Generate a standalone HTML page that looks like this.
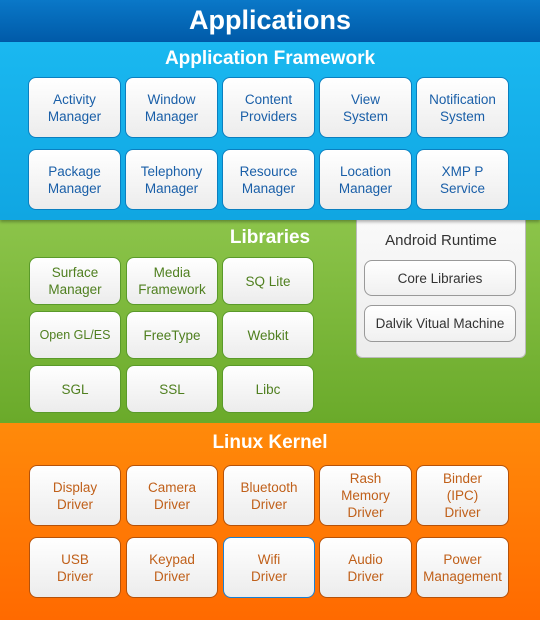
<!DOCTYPE html>
<html><head><meta charset="utf-8"><style>
*{margin:0;padding:0;box-sizing:border-box}
body{width:540px;height:620px;position:relative;overflow:hidden;font-family:"Liberation Sans",Arial,sans-serif}
.band{position:absolute;left:0;width:540px}
.t{position:absolute;color:#fff;font-weight:bold;text-align:center}
.b{position:absolute;border-radius:8px;background:linear-gradient(#ffffff,#ececec);display:flex;align-items:center;justify-content:center;text-align:center;font-size:13.5px;line-height:17px}
.bl{border:1px solid #0a7fc0;color:#1a5fa8}
.gr{border:1px solid #5a9a2a;color:#4f7f1f}
.or{border:1px solid #b5520a;color:#c0601a}
</style></head><body>
<div class="band" style="top:0;height:42px;background:linear-gradient(#0a78c8,#005aa8)"></div>
<div class="t" style="left:0;width:540px;top:4px;font-size:27px;line-height:32px">Applications</div>
<div class="band" style="top:42px;height:178px;background:linear-gradient(#1ab8f0,#10a6e2);box-shadow:0 2px 3px rgba(0,0,0,.3);z-index:1"></div>
<div class="t" style="left:0;width:540px;top:48px;font-size:19px;line-height:22px;z-index:2">Application Framework</div>
<div class="band" style="top:220px;height:203px;background:linear-gradient(#8cc44a,#6aaa2a)"></div>
<div class="t" style="left:190px;width:160px;top:227px;font-size:19px;line-height:22px">Libraries</div>
<div class="band" style="top:423px;height:197px;background:linear-gradient(#ff8a0a,#ff6a00)"></div>
<div class="t" style="left:190px;width:160px;top:432px;font-size:19px;line-height:22px">Linux Kernel</div>

<div style="position:absolute;left:356px;top:216px;width:170px;height:142px;background:linear-gradient(#fafafa,#ececec);border:1px solid #bbb;border-radius:0 0 6px 6px;z-index:0"></div>
<div style="position:absolute;left:356px;top:232px;width:170px;text-align:center;font-size:15px;color:#333">Android Runtime</div>
<div class="b" style="left:364px;top:260px;width:152px;height:36px;border:1px solid #999;color:#333;background:linear-gradient(#fff,#f0f0f0)">Core Libraries</div>
<div class="b" style="left:364px;top:305px;width:152px;height:37px;border:1px solid #999;color:#333;background:linear-gradient(#fff,#f0f0f0)">Dalvik Vitual Machine</div>

<div style="position:absolute;left:0;top:0;z-index:3">
<div class="b bl" style="left:28px;top:77px;width:93px;height:61px">Activity<br>Manager</div>
<div class="b bl" style="left:125px;top:77px;width:93px;height:61px">Window<br>Manager</div>
<div class="b bl" style="left:222px;top:77px;width:93px;height:61px">Content<br>Providers</div>
<div class="b bl" style="left:319px;top:77px;width:93px;height:61px">View<br>System</div>
<div class="b bl" style="left:416px;top:77px;width:93px;height:61px">Notification<br>System</div>
<div class="b bl" style="left:28px;top:149px;width:93px;height:61px">Package<br>Manager</div>
<div class="b bl" style="left:125px;top:149px;width:93px;height:61px">Telephony<br>Manager</div>
<div class="b bl" style="left:222px;top:149px;width:93px;height:61px">Resource<br>Manager</div>
<div class="b bl" style="left:319px;top:149px;width:93px;height:61px">Location<br>Manager</div>
<div class="b bl" style="left:416px;top:149px;width:93px;height:61px">XMP P<br>Service</div>
</div>

<div class="b gr" style="left:29px;top:257px;width:92px;height:48px">Surface<br>Manager</div>
<div class="b gr" style="left:126px;top:257px;width:92px;height:48px">Media<br>Framework</div>
<div class="b gr" style="left:222px;top:257px;width:92px;height:48px">SQ Lite</div>
<div class="b gr" style="left:29px;top:311px;width:92px;height:48px;font-size:12.5px">Open GL/ES</div>
<div class="b gr" style="left:126px;top:311px;width:92px;height:48px">FreeType</div>
<div class="b gr" style="left:222px;top:311px;width:92px;height:48px">Webkit</div>
<div class="b gr" style="left:29px;top:365px;width:92px;height:48px">SGL</div>
<div class="b gr" style="left:126px;top:365px;width:92px;height:48px">SSL</div>
<div class="b gr" style="left:222px;top:365px;width:92px;height:48px">Libc</div>

<div class="b or" style="left:29px;top:465px;width:92px;height:61px">Display<br>Driver</div>
<div class="b or" style="left:126px;top:465px;width:92px;height:61px">Camera<br>Driver</div>
<div class="b or" style="left:223px;top:465px;width:92px;height:61px">Bluetooth<br>Driver</div>
<div class="b or" style="left:319px;top:465px;width:93px;height:61px">Rash<br>Memory<br>Driver</div>
<div class="b or" style="left:416px;top:465px;width:93px;height:61px">Binder<br>(IPC)<br>Driver</div>
<div class="b or" style="left:29px;top:537px;width:92px;height:61px">USB<br>Driver</div>
<div class="b or" style="left:126px;top:537px;width:92px;height:61px">Keypad<br>Driver</div>
<div class="b or" style="left:223px;top:537px;width:92px;height:61px;border:1px solid #1a7fd0">Wifi<br>Driver</div>
<div class="b or" style="left:319px;top:537px;width:93px;height:61px">Audio<br>Driver</div>
<div class="b or" style="left:416px;top:537px;width:93px;height:61px">Power<br>Management</div>
</body></html>
